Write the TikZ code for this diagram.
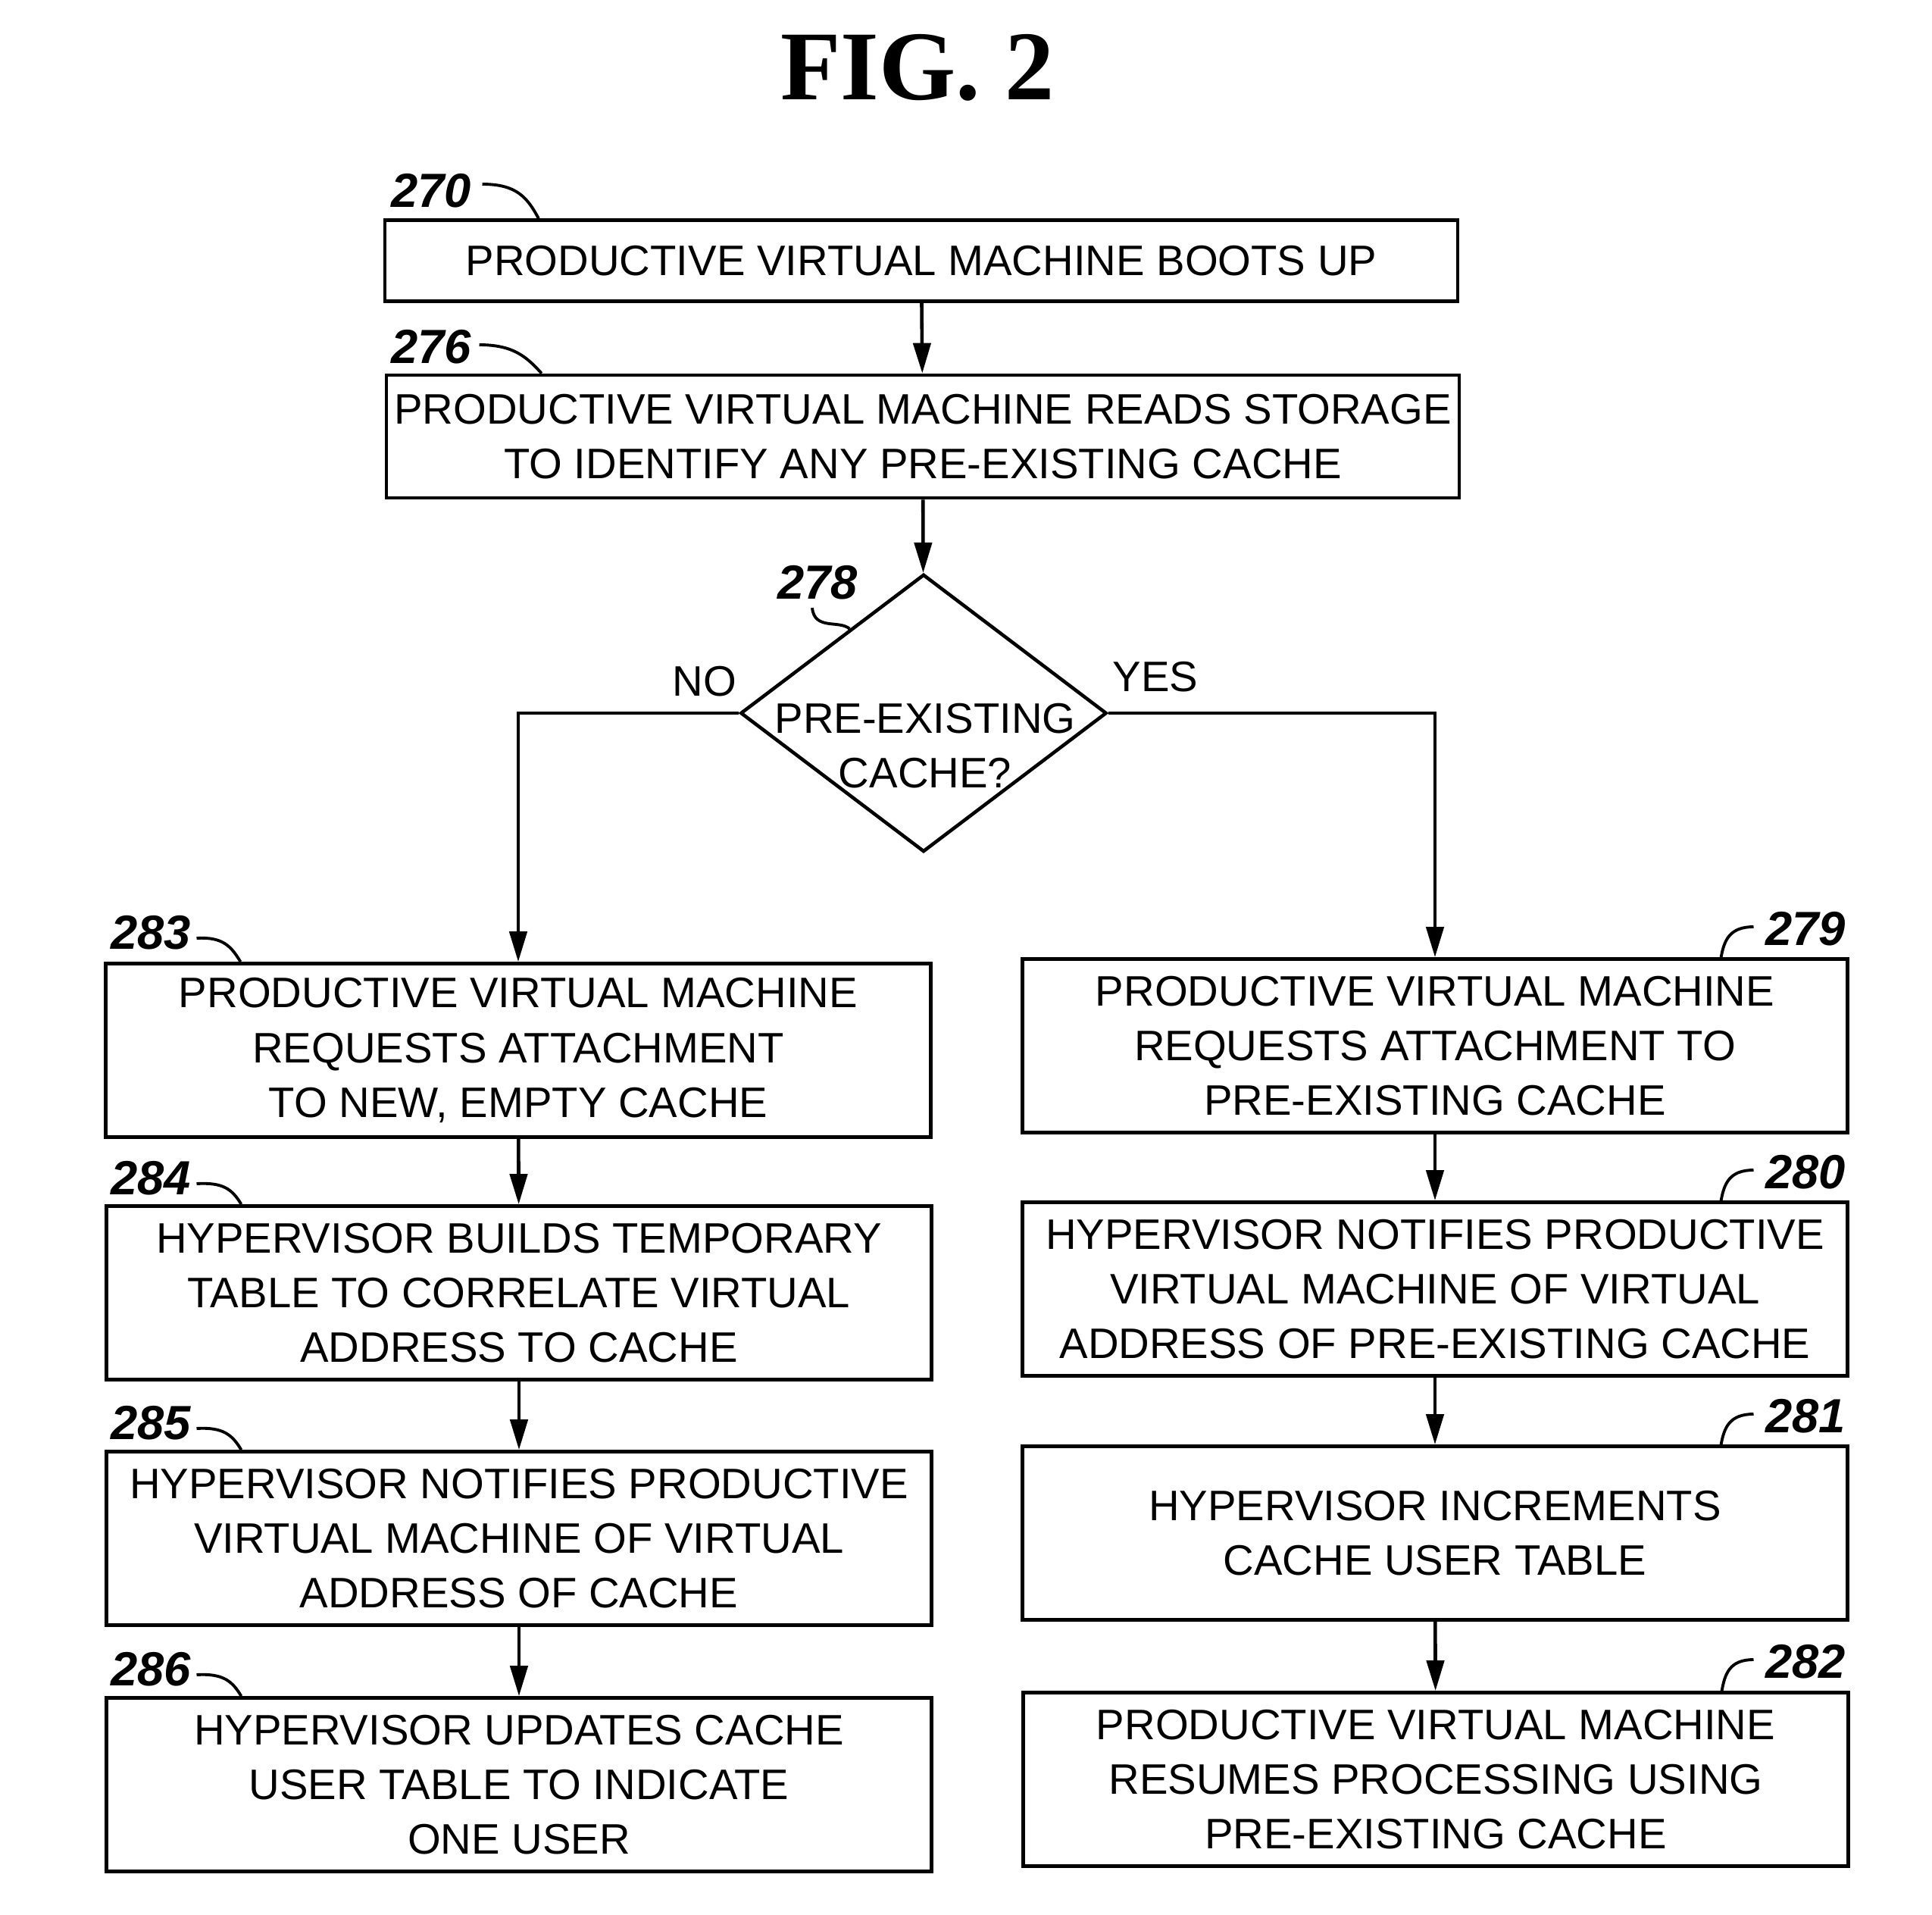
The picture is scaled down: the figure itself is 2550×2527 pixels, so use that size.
\documentclass[tikz,border=0pt]{standalone}
\usepackage{fontspec}
\setmainfont{Liberation Sans}
\newfontfamily\figfont{Liberation Serif}
\usepackage{tikz}
\usetikzlibrary{arrows.meta, shapes.geometric, calc}

\tikzset{
	box/.style={draw, line width=1.3pt, align=center, inner sep=0pt, minimum width=10.88cm, minimum height=2.29cm, font=\fontsize{16}{20.5}\selectfont},
	num/.style={inner sep=0pt, font=\fontsize{18}{18}\selectfont\bfseries\itshape},
	flow/.style={line width=1.3pt, -{Triangle[length=4mm, width=2.3mm]}},
	lead/.style={line width=1.1pt},
}

\begin{document}
\begin{tikzpicture}[x=0.01cm, y=-0.01cm]
			\useasboundingbox (0,0) rectangle (2550,2527);
			\node[font=\figfont\fontsize{37}{37}\selectfont\bfseries] (title) at (1211,89) {FIG. 2};
			
			% top of the chart
			\node[box, minimum width=14.15cm, minimum height=1.07cm] (b270) at (1216,344) {PRODUCTIVE VIRTUAL MACHINE BOOTS UP};
			\node[box, minimum width=14.15cm, minimum height=1.62cm] (b276) at (1218,576) {PRODUCTIVE VIRTUAL MACHINE READS STORAGE\\TO IDENTIFY ANY PRE-EXISTING CACHE};
			\node[draw, diamond, line width=1.3pt, inner sep=0pt, minimum width=4.83cm, minimum height=3.66cm] (d278) at (1219,941) {};
			\node[align=center, inner sep=0pt, font=\fontsize{16}{20.5}\selectfont] (t278) at (1221,984) {PRE-EXISTING\\CACHE?};
			
			% NO side
			\node[box] (b283) at (684,1386) {PRODUCTIVE VIRTUAL MACHINE\\REQUESTS ATTACHMENT\\TO NEW, EMPTY CACHE};
			\node[box] (b284) at (685,1706) {HYPERVISOR BUILDS TEMPORARY\\TABLE TO CORRELATE VIRTUAL\\ADDRESS TO CACHE};
			\node[box] (b285) at (685,2030) {HYPERVISOR NOTIFIES PRODUCTIVE\\VIRTUAL MACHINE OF VIRTUAL\\ADDRESS OF CACHE};
			\node[box] (b286) at (685,2355) {HYPERVISOR UPDATES CACHE\\USER TABLE TO INDICATE\\ONE USER};
			
			% YES side
			\node[box] (b279) at (1894,1380) {PRODUCTIVE VIRTUAL MACHINE\\REQUESTS ATTACHMENT TO\\PRE-EXISTING CACHE};
			\node[box] (b280) at (1894,1701) {HYPERVISOR NOTIFIES PRODUCTIVE\\VIRTUAL MACHINE OF VIRTUAL\\ADDRESS OF PRE-EXISTING CACHE};
			\node[box] (b281) at (1894,2023) {HYPERVISOR INCREMENTS\\CACHE USER TABLE};
			\node[box] (b282) at (1895,2348) {PRODUCTIVE VIRTUAL MACHINE\\RESUMES PROCESSING USING\\PRE-EXISTING CACHE};
			
			\node[font=\fontsize{16}{16}\selectfont] (no) at (930,899) {NO};
			\node[font=\fontsize{16}{16}\selectfont] (yes) at (1525,893) {YES};
			
			\draw[flow] (b270) -- (b276);
			\draw[flow] (b276) -- (d278);
			\draw[flow] (d278.west) -| (b283.north);
			\draw[flow] (d278.east) -| (b279.north);
			\draw[flow] (b283) -- (b284);
			\draw[flow] (b284) -- (b285);
			\draw[flow] (b285) -- (b286);
			\draw[flow] (b279) -- (b280);
			\draw[flow] (b280) -- (b281);
			\draw[flow] (b281) -- (b282);
			
			% reference numbers
			\node[num] (n270) at (569,252) {270};
			\node[num] (n276) at (569,458) {276};
			\node[num] (n278) at (1079,769) {278};
			\node[num] (n283) at (199,1231) {283};
			\node[num] (n284) at (199,1555) {284};
			\node[num] (n285) at (199,1878) {285};
			\node[num] (n286) at (199,2203) {286};
			\node[num] (n279) at (2383,1226) {279};
			\node[num] (n280) at (2383,1547) {280};
			\node[num] (n281) at (2383,1869) {281};
			\node[num] (n282) at (2383,2193) {282};
			
			\draw[lead] ($(n270.east)+(14,-9)$) .. controls +(45,0) and +(-15,-28) .. ($(b270.north west)+(205,0)$);
			\draw[lead] ($(n276.east)+(10,-3)$) .. controls +(45,0) and +(-20,-22) .. ($(b276.north west)+(207,0)$);
			\draw[lead] ($(n278.south)+(-7,10)$) .. controls +(3,30) and +(-14,-12) .. ($(d278.north)!0.4!(d278.west)$);
			\foreach \i in {283,284,285,286}
				\draw[lead] ($(n\i.east)+(7,7)$) .. controls +(35,-2) and +(-12,-20) .. ($(b\i.north west)+(180,0)$);
			\foreach \i in {279,280,281,282}
				\draw[lead] ($(n\i.west)+(-15,-3)$) .. controls +(-32,0) and +(4,-22) .. ($(b\i.north east)+(-169,0)$);
			
\end{tikzpicture}
\end{document}
